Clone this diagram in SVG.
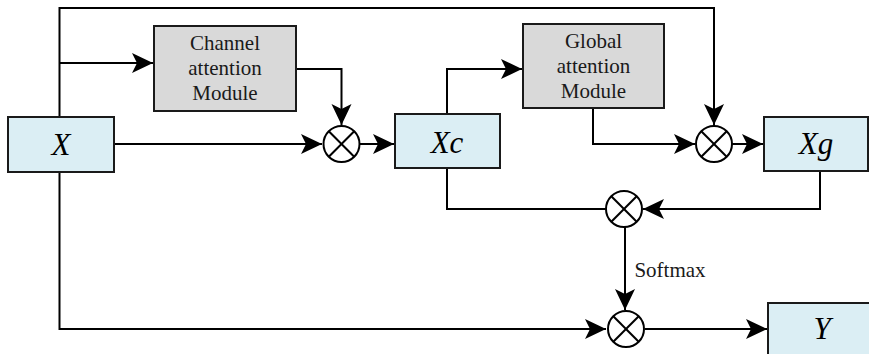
<svg xmlns="http://www.w3.org/2000/svg" width="869" height="354" viewBox="0 0 869 354">
<style>
.blue{fill:#dbeef4;stroke:#1a1a1a;stroke-width:2}
.gray{fill:#d9d9d9;stroke:#1a1a1a;stroke-width:2}
.op{fill:#fff;stroke:#000;stroke-width:2}
.cx{stroke:#000;stroke-width:2}
.ln{fill:none;stroke:#000;stroke-width:2}
.var{font-family:"Liberation Serif","Times New Roman",serif;font-style:italic;font-size:31px;fill:#000;text-anchor:middle}
.lbl{font-family:"Liberation Serif","Times New Roman",serif;font-size:21px;fill:#1a1a1a;text-anchor:middle}
</style>
<defs>
<marker id="ah" markerUnits="userSpaceOnUse" markerWidth="24" markerHeight="24" viewBox="-22 -11 24 22" refX="0" refY="0" orient="auto">
<path d="M0,0 L-21,-10 L-16,0 L-21,10 Z" fill="#000"/>
</marker>
<g id="mul">
<circle r="18" class="op"/>
<line x1="-12.7" y1="-12.7" x2="12.7" y2="12.7" class="cx"/>
<line x1="-12.7" y1="12.7" x2="12.7" y2="-12.7" class="cx"/>
</g>
</defs>
<g id="connectors" class="ln">
<path d="M59.5,117 V8 H714 V125" marker-end="url(#ah)"/>
<path d="M59.5,63 H153" marker-end="url(#ah)"/>
<path d="M296,69 H341.5 V125" marker-end="url(#ah)"/>
<path d="M114,144 H322" marker-end="url(#ah)"/>
<path d="M360,144 H394" marker-end="url(#ah)"/>
<path d="M447,114 V69 H522" marker-end="url(#ah)"/>
<path d="M593,108 V144 H695" marker-end="url(#ah)"/>
<path d="M732,144 H763" marker-end="url(#ah)"/>
<path d="M447,168 V209 H606"/>
<path d="M820,171 V209 H643" marker-end="url(#ah)"/>
<path d="M625,227 V310" marker-end="url(#ah)"/>
<path d="M59.5,172 V329 H606" marker-end="url(#ah)"/>
<path d="M645,329 H767" marker-end="url(#ah)"/>
</g>
<g id="node-X"><rect x="8" y="117" width="106" height="55" class="blue"/><text x="61" y="155" class="var">X</text></g>
<g id="node-channel"><rect x="154" y="26" width="142" height="85" class="gray"/>
<text x="225" y="50" class="lbl">Channel</text><text x="225" y="75" class="lbl">attention</text><text x="225" y="100" class="lbl">Module</text></g>
<g id="node-mul1"><use href="#mul" x="341.5" y="144"/></g>
<g id="node-Xc"><rect x="395" y="114" width="105" height="54" class="blue"/><text x="447" y="153" class="var">Xc</text></g>
<g id="node-global"><rect x="523" y="24" width="141" height="84" class="gray"/>
<text x="593.5" y="48" class="lbl">Global</text><text x="593.5" y="73" class="lbl">attention</text><text x="593.5" y="98" class="lbl">Module</text></g>
<g id="node-mul2"><use href="#mul" x="714" y="144"/></g>
<g id="node-Xg"><rect x="764" y="117" width="104" height="54" class="blue"/><text x="816" y="154" class="var">Xg</text></g>
<g id="node-mul3"><use href="#mul" x="624" y="209"/></g>
<g id="label-softmax"><text x="670" y="277" class="lbl">Softmax</text></g>
<g id="node-mul4"><use href="#mul" x="626" y="329"/></g>
<g id="node-Y"><rect x="768" y="303" width="110" height="60" class="blue"/><text x="822" y="339" class="var">Y</text></g>
</svg>
